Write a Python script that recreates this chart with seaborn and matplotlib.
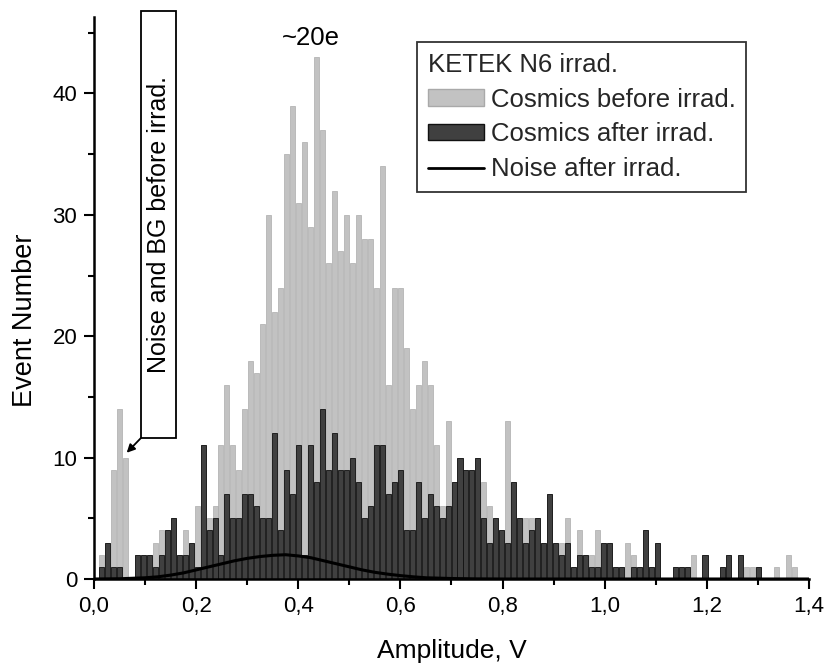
import numpy as np
import pandas as pd
import matplotlib
matplotlib.use("Agg")
import matplotlib.pyplot as plt
import seaborn as sns
from matplotlib.patches import Patch, Rectangle
from matplotlib.lines import Line2D
from matplotlib.ticker import MultipleLocator, FuncFormatter

# Histogram binning (amplitude, V)
bin_start = 0.0088
bin_width = 0.0117

# Event counts per bin: cosmics before irradiation
before = [2, 3, 9, 14, 10, 0, 2, 2, 2, 3, 4, 4, 5, 2, 4, 3, 6, 11, 5, 6,
          11, 16, 11, 9, 14, 18, 17, 21, 30, 22, 24, 35, 39, 31, 36, 29, 43, 37, 26, 32,
          27, 30, 26, 30, 28, 28, 24, 34, 16, 24, 24, 19, 14, 16, 18, 16, 11, 6, 13, 8,
          10, 9, 9, 10, 8, 6, 5, 4, 13, 8, 5, 5, 5, 5, 3, 7, 3, 3, 5, 1,
          4, 2, 2, 4, 3, 3, 1, 1, 3, 2, 1, 4, 1, 3, 0, 0, 1, 1, 1, 2,
          0, 2, 0, 0, 1, 2, 0, 2, 1, 1, 1, 0, 0, 1, 0, 2, 1, 0]

# Event counts per bin: cosmics after irradiation
after = [1, 3, 1, 1, 0, 0, 2, 2, 2, 1, 2, 4, 5, 2, 2, 3, 1, 11, 4, 5,
         2, 7, 5, 5, 7, 7, 6, 5, 5, 12, 4, 9, 7, 11, 2, 11, 8, 14, 9, 12,
         9, 9, 10, 8, 5, 6, 11, 11, 7, 8, 9, 4, 4, 8, 5, 7, 6, 5, 6, 8,
         10, 9, 9, 10, 5, 3, 5, 4, 3, 8, 5, 3, 4, 5, 3, 7, 3, 2, 3, 1,
         2, 2, 1, 1, 3, 3, 1, 1, 0, 1, 1, 4, 1, 3, 0, 0, 1, 1, 1, 0,
         0, 2, 0, 0, 1, 2, 0, 2, 0, 0, 1, 0, 0, 0, 0, 0, 0, 0]

# Noise spectrum after irradiation
noise_x = [0.00, 0.05, 0.10, 0.125, 0.15, 0.175, 0.20, 0.225, 0.25, 0.275,
           0.30, 0.325, 0.35, 0.375, 0.40, 0.425, 0.45, 0.475, 0.50, 0.525,
           0.55, 0.575, 0.60, 0.625, 0.65, 0.70, 0.75, 0.80, 1.40]
noise_y = [0.00, 0.02, 0.10, 0.18, 0.32, 0.50, 0.75, 1.00, 1.25, 1.50,
           1.70, 1.85, 1.95, 2.00, 1.90, 1.75, 1.50, 1.25, 1.00, 0.75,
           0.55, 0.40, 0.28, 0.18, 0.10, 0.04, 0.01, 0.00, 0.00]

x_ticks = [0.0, 0.2, 0.4, 0.6, 0.8, 1.0, 1.2, 1.4]
y_ticks = [0, 10, 20, 30, 40]

n_bins = len(before)
bin_range = (bin_start, bin_start + n_bins * bin_width)
centers = bin_start + bin_width * (np.arange(n_bins) + 0.5)
df = pd.DataFrame({"amp": centers, "before": before, "after": after})

sns.set_theme(style="ticks")
plt.rcParams["font.family"] = ["Liberation Sans", "DejaVu Sans"]

light = "#c2c2c2"
dark = "#404040"

fig = plt.figure(figsize=(8.28, 6.67), dpi=100)
ax = fig.add_axes([94 / 828, 1 - 579 / 667, 715 / 828, 562 / 667])

sns.histplot(data=df, x="amp", weights="before", bins=n_bins, binrange=bin_range,
             shrink=0.84, color=light, edgecolor="#ababab", linewidth=0.5,
             alpha=1, ax=ax)
sns.histplot(data=df, x="amp", weights="after", bins=n_bins, binrange=bin_range,
             shrink=0.84, color=dark, edgecolor="#111111", linewidth=0.6,
             alpha=1, ax=ax)
sns.lineplot(x=noise_x, y=noise_y, color="black", linewidth=2.2, ax=ax,
             zorder=5)

ax.set_xlim(0, 1.4)
ax.set_ylim(0, 46.3)
ax.set_xticks(x_ticks)
ax.set_yticks(y_ticks)
ax.xaxis.set_minor_locator(MultipleLocator(0.1))
ax.yaxis.set_minor_locator(MultipleLocator(5))
ax.xaxis.set_major_formatter(FuncFormatter(lambda v, p: f"{v:.1f}".replace(".", ",")))
ax.tick_params(which="major", length=7, width=1.5, labelsize=16, color="black",
               labelcolor="black", pad=5)
ax.tick_params(which="minor", length=4, width=1.5, color="black")
for side in ("top", "right"):
    ax.spines[side].set_visible(False)
for side in ("left", "bottom"):
    ax.spines[side].set_linewidth(1.8)
    ax.spines[side].set_color("black")

ax.set_xlabel("")
ax.set_ylabel("")
fig.text(452 / 828, 1 - 651 / 667, "Amplitude, V", ha="center", va="center",
         fontsize=19, color="black")
fig.text(25 / 828, 1 - 320 / 667, "Event Number", ha="center", va="center",
         rotation=90, fontsize=19.5, color="black")

# Peak marker
ax.text(0.4247, 44.6, "~20e", ha="center", va="center", fontsize=18.5, color="black")

# Noise/background callout box with arrow
box = Rectangle((0.092, 11.62), 0.068, 35.2, fill=False, edgecolor="black",
                linewidth=1.3, clip_on=False, zorder=6)
ax.add_patch(box)
ax.text(0.127, 29.2, "Noise and BG before irrad.", rotation=90, ha="center",
        va="center", fontsize=18, color="black", zorder=7)
ax.annotate("", xy=(0.064, 10.4), xytext=(0.092, 11.62),
            arrowprops=dict(arrowstyle="-|>", color="black", lw=1.3,
                            mutation_scale=12, shrinkA=0, shrinkB=0),
            zorder=7)

handles = [Patch(facecolor=light, edgecolor="#a9a9a9"),
           Patch(facecolor=dark, edgecolor="#111111"),
           Line2D([0], [0], color="black", linewidth=2)]
labels = ["Cosmics before irrad.", "Cosmics after irrad.", "Noise after irrad."]
leg = fig.legend(handles, labels, title="KETEK N6 irrad.", loc="upper left",
                 bbox_to_anchor=(417 / 828, 1 - 42 / 667), borderaxespad=0,
                 fontsize=18.5, title_fontsize=18.5, frameon=True, fancybox=False,
                 shadow=False, handlelength=2.2, handleheight=0.6,
                 handletextpad=0.25, labelspacing=0.42, borderpad=0.42,
                 alignment="left")
leg.get_frame().set_edgecolor("black")
leg.get_frame().set_linewidth(1.3)

fig.savefig("out.png", dpi=100, facecolor="white")
